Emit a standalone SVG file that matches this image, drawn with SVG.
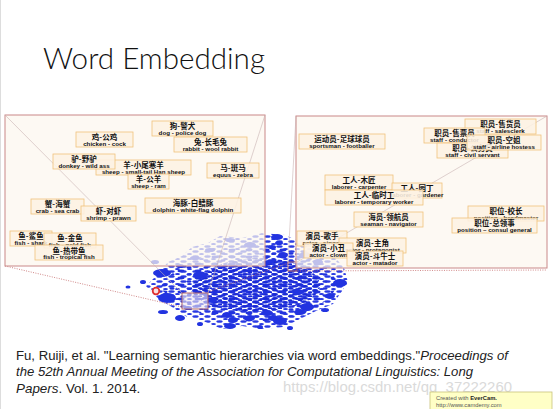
<svg xmlns="http://www.w3.org/2000/svg" width="554" height="409" viewBox="0 0 554 409">
<style>
.lbl rect{fill:#fdf1e2;fill-opacity:.88;stroke:#f0c27c;stroke-width:.8}
.zh{font-family:"Noto Sans CJK SC",sans-serif;font-weight:bold;font-size:7.5px;text-anchor:middle;fill:#111}
.en{font-family:"Liberation Sans",Arial,sans-serif;font-weight:bold;font-size:6.2px;text-anchor:middle;fill:#111}
.blob ellipse{fill:#2233e0}
.panel{fill:#fcf6ef;fill-opacity:.72;stroke:#c98888;stroke-width:1}
.persp{stroke:#c9b4b4;stroke-width:.6;fill:none}
.dot{stroke:#c46a6a;stroke-width:.8;stroke-dasharray:1 1.4;fill:none}
.cite{font-family:"Liberation Sans",Arial,sans-serif;font-size:13.4px;fill:#222}
</style>
<defs>
<pattern id="dA" width="12" height="5" patternUnits="userSpaceOnUse"><ellipse cx="3.5" cy="1.5" rx="3.2" ry="1.3" fill="#2a3ae2"/><ellipse cx="9.5" cy="4" rx="2.4" ry="1.1" fill="#2a3ae2"/></pattern>
<pattern id="dB" width="10" height="4" patternUnits="userSpaceOnUse" patternTransform="translate(2 1)"><ellipse cx="3" cy="1.2" rx="3" ry="1.2" fill="#1a2ad6"/><ellipse cx="8.2" cy="3.2" rx="2.4" ry="1" fill="#1a2ad6"/></pattern>
<pattern id="dC" width="17" height="7" patternUnits="userSpaceOnUse" patternTransform="translate(6 3)"><ellipse cx="5" cy="2" rx="3.5" ry="1.4" fill="#2233dd"/><ellipse cx="13" cy="5.5" rx="2.6" ry="1.2" fill="#2233dd"/></pattern>
</defs>
<rect width="554" height="409" fill="#ffffff"/>
<line x1="0.5" y1="0" x2="0.5" y2="409" stroke="#dddddd"/>
<text x="43" y="69" font-family="Lato,'Open Sans',sans-serif" font-weight="300" font-size="30" fill="#111" textLength="222" lengthAdjust="spacingAndGlyphs">Word Embedding</text>

<g id="cluster" class="blob">
<path d="M146,286 L156,276 168,262 182,256 192,247 208,243 220,236 242,238 262,233 285,235 300,242 320,245 334,256 344,268 348,282 340,294 333,304 316,311 300,319 284,327 262,329 242,326 222,329 203,321 187,317 172,307 158,299 Z" fill="url(#dA)"/>
<path d="M160,288 C170,268 205,250 250,246 C298,244 332,262 336,282 C338,302 302,318 258,322 C220,324 180,310 160,288 Z" fill="url(#dC)"/>
<path d="M190,289 C196,273 220,260 255,258 C292,257 318,270 320,284 C321,299 296,310 258,312 C225,313 196,303 190,289 Z" fill="url(#dB)"/>
<ellipse cx="162" cy="273" rx="9" ry="4"/>
<ellipse cx="167" cy="298" rx="9" ry="5"/>
<ellipse cx="200" cy="275" rx="7" ry="3.5"/>
<ellipse cx="143" cy="282" rx="3" ry="2"/>
<ellipse cx="128" cy="287" rx="2.5" ry="1.5"/>
<ellipse cx="277" cy="237" rx="6" ry="3"/>
<ellipse cx="272" cy="247" rx="4" ry="2"/>
<ellipse cx="280" cy="321" rx="7" ry="4"/>
<ellipse cx="267" cy="313" rx="6" ry="3"/>
<ellipse cx="340" cy="283" rx="7" ry="4"/>
<ellipse cx="330" cy="296" rx="5" ry="3"/>
<ellipse cx="307" cy="307" rx="7" ry="4"/>
<ellipse cx="250" cy="318" rx="5" ry="3"/>
<ellipse cx="233" cy="320" rx="5" ry="3"/>
<ellipse cx="188" cy="308" rx="4" ry="2"/>
<ellipse cx="180" cy="266" rx="4" ry="2"/>
<ellipse cx="212" cy="300" rx="5" ry="3"/>
<ellipse cx="318" cy="262" rx="5" ry="3"/>
<ellipse cx="298" cy="292" rx="6" ry="3"/>
<ellipse cx="163" cy="312" rx="5" ry="2"/>
<ellipse cx="180" cy="318" rx="5" ry="3"/>
<ellipse cx="200" cy="324" rx="3" ry="2"/>
<ellipse cx="227" cy="315" rx="5" ry="3"/>
<ellipse cx="230" cy="326" rx="6" ry="3"/>
<ellipse cx="247" cy="318" rx="4" ry="2"/>
<ellipse cx="260" cy="327" rx="3" ry="2"/>
<ellipse cx="273" cy="318" rx="5" ry="3"/>
<ellipse cx="300" cy="312" rx="6" ry="3"/>
<ellipse cx="215" cy="312" rx="3" ry="2"/>
<ellipse cx="283" cy="255" rx="5" ry="3"/>
<ellipse cx="270" cy="262" rx="4" ry="2"/>
<ellipse cx="279" cy="243" rx="4" ry="2"/>
<ellipse cx="230" cy="240" rx="5" ry="2"/>
<ellipse cx="250" cy="245" rx="6" ry="3"/>
<ellipse cx="210" cy="250" rx="5" ry="2"/>
<ellipse cx="320" cy="245" rx="5" ry="2"/>
<ellipse cx="305" cy="255" rx="6" ry="3"/>
<ellipse cx="195" cy="258" rx="5" ry="2"/>
<ellipse cx="155" cy="262" rx="4" ry="2"/>
<ellipse cx="325" cy="310" rx="4" ry="2"/>
<ellipse cx="290" cy="328" rx="3" ry="2"/>
</g>
<circle cx="156" cy="291" r="3.3" fill="#fbe0e0" stroke="#e03030" stroke-width="1.8"/>

<g id="connectors">
<rect x="182" y="293" width="26" height="16" fill="#efe6ee" fill-opacity=".6" stroke="#b06060" stroke-width=".9"/>
<rect x="288" y="262" width="9" height="9" fill="none" stroke="#b06060" stroke-width=".8"/>
<line class="dot" x1="5" y1="266" x2="182" y2="307"/>
<line class="dot" x1="208" y1="292" x2="288" y2="263"/>
<line class="dot" x1="288" y1="271" x2="547" y2="270"/>
</g>

<rect id="panel-left" class="panel" x="5" y="115" width="260" height="151"/>
<rect id="panel-right" class="panel" x="296" y="116" width="251" height="152"/>
<g id="perspective">
<line class="persp" x1="5" y1="115" x2="182" y2="293"/>
<line class="persp" x1="265" y1="115" x2="208" y2="293"/>
<line class="persp" x1="547" y1="116" x2="297" y2="262"/>
<line class="persp" x1="296" y1="116" x2="288" y2="262" stroke="#c98888"/>
</g>

<g id="n-chicken" class="lbl"><rect x="76" y="132" width="57" height="15"/><text class="zh" x="104.5" y="140">鸡-公鸡</text><text class="en" x="104.5" y="145.5">chicken - cock</text></g>
<g id="n-dog" class="lbl"><rect x="152" y="121" width="61" height="15"/><text class="zh" x="182.5" y="129">狗-警犬</text><text class="en" x="182.5" y="134.5">dog - police dog</text></g>
<g id="n-rabbit" class="lbl"><rect x="174" y="137" width="73" height="15"/><text class="zh" x="210.5" y="145">兔-长毛兔</text><text class="en" x="210.5" y="150.5">rabbit - wool rabbit</text></g>
<g id="n-sheep-han" class="lbl"><rect x="96" y="160" width="95" height="15"/><text class="zh" x="143.5" y="168">羊-小尾寒羊</text><text class="en" x="143.5" y="173.5">sheep - small-tail Han sheep</text></g>
<g id="n-donkey" class="lbl"><rect x="53" y="154" width="62" height="15"/><text class="zh" x="84" y="162">驴-野驴</text><text class="en" x="84" y="167.5">donkey - wild ass</text></g>
<g id="n-sheep-ram" class="lbl"><rect x="128" y="174" width="41" height="15"/><text class="zh" x="148.5" y="182">羊-公羊</text><text class="en" x="148.5" y="187.5">sheep - ram</text></g>
<g id="n-equus" class="lbl"><rect x="207" y="163" width="52" height="15"/><text class="zh" x="233" y="171">马-斑马</text><text class="en" x="233" y="176.5">equus - zebra</text></g>
<g id="n-crab" class="lbl"><rect x="31" y="199" width="53" height="15"/><text class="zh" x="57.5" y="207">蟹-海蟹</text><text class="en" x="57.5" y="212.5">crab - sea crab</text></g>
<g id="n-shrimp" class="lbl"><rect x="81" y="206" width="55" height="15"/><text class="zh" x="108.5" y="214">虾-对虾</text><text class="en" x="108.5" y="219.5">shrimp - prawn</text></g>
<g id="n-dolphin" class="lbl"><rect x="145" y="198" width="96" height="15"/><text class="zh" x="193" y="206">海豚-白鳍豚</text><text class="en" x="193" y="211.5">dolphin - white-flag dolphin</text></g>
<g id="n-shark" class="lbl"><rect x="10" y="231" width="42" height="15"/><text class="zh" x="31" y="239">鱼-鲨鱼</text><text class="en" x="31" y="244.5">fish - shark</text></g>
<g id="n-goldfish" class="lbl"><rect x="44" y="233" width="52" height="15"/><text class="zh" x="70" y="241">鱼-金鱼</text><text class="en" x="70" y="246.5">fish - gold fish</text></g>
<g id="n-tropical" class="lbl"><rect x="35" y="245" width="68" height="15"/><text class="zh" x="69" y="253.5">鱼-热带鱼</text><text class="en" x="69" y="259">fish - tropical fish</text></g>

<g id="n-sportsman" class="lbl"><rect x="299" y="134" width="86" height="15"/><text class="zh" x="342" y="142">运动员-足球球员</text><text class="en" x="342" y="147.5">sportsman - footballer</text></g>
<g id="n-salesclerk" class="lbl"><rect x="465" y="119" width="71" height="15"/><text class="zh" x="500.5" y="127">职员-售货员</text><text class="en" x="500.5" y="132.5">staff - salesclerk</text></g>
<g id="n-conductor" class="lbl"><rect x="424" y="128" width="61" height="15"/><text class="zh" x="454.5" y="136">职员-售票员</text><text class="en" x="454.5" y="141.5">staff - conductor</text></g>
<g id="n-civil" class="lbl"><rect x="437" y="143" width="71" height="15"/><text class="zh" x="472.5" y="151">职员-公务员</text><text class="en" x="472.5" y="156.5">staff - civil servant</text></g>
<g id="n-hostess" class="lbl"><rect x="467" y="135" width="74" height="15"/><text class="zh" x="504" y="143">职员-空姐</text><text class="en" x="504" y="148.5">staff - airline hostess</text></g>
<g id="n-carpenter" class="lbl"><rect x="325" y="175" width="68" height="15"/><text class="zh" x="359" y="183">工人-木匠</text><text class="en" x="359" y="188.5">laborer - carpenter</text></g>
<g id="n-gardener" class="lbl"><rect x="392" y="183" width="50" height="15"/><text class="zh" x="417" y="191">工人-园丁</text><text class="en" x="417" y="196.5">laborer - gardener</text></g>
<g id="n-temp" class="lbl"><rect x="325" y="190" width="98" height="15"/><text class="zh" x="374" y="198">工人-临时工</text><text class="en" x="374" y="203.5">laborer - temporary worker</text></g>
<g id="n-navigator" class="lbl"><rect x="354" y="212" width="69" height="15"/><text class="zh" x="388.5" y="220">海员-领航员</text><text class="en" x="388.5" y="225.5">seaman - navigator</text></g>
<g id="n-headmaster" class="lbl"><rect x="468" y="206" width="76" height="15"/><text class="zh" x="506" y="214">职位-校长</text><text class="en" x="506" y="219.5">position - headmaster</text></g>
<g id="n-consul" class="lbl"><rect x="452" y="218" width="85" height="15"/><text class="zh" x="494.5" y="226">职位-总领事</text><text class="en" x="494.5" y="231.5">position – consul general</text></g>
<g id="n-singer" class="lbl"><rect x="297" y="231" width="50" height="15"/><text class="zh" x="322" y="239">演员-歌手</text><text class="en" x="322" y="244.5">actor - singer</text></g>
<g id="n-protagonist" class="lbl"><rect x="339" y="238" width="67" height="15"/><text class="zh" x="372.5" y="246">演员-主角</text><text class="en" x="372.5" y="251.5">actor - protagonist</text></g>
<g id="n-clown" class="lbl"><rect x="304" y="243" width="49" height="15"/><text class="zh" x="328.5" y="251">演员-小丑</text><text class="en" x="328.5" y="256.5">actor - clown</text></g>
<g id="n-matador" class="lbl"><rect x="347" y="251" width="56" height="15"/><text class="zh" x="375" y="259">演员-斗牛士</text><text class="en" x="375" y="264.5">actor - matador</text></g>

<text class="cite" x="16" y="360" textLength="492" lengthAdjust="spacingAndGlyphs">Fu, Ruiji, et al. "Learning semantic hierarchies via word embeddings."<tspan font-style="italic">Proceedings of</tspan></text>
<text class="cite" x="16" y="376" font-style="italic" textLength="457" lengthAdjust="spacingAndGlyphs">the 52th Annual Meeting of the Association for Computational Linguistics: Long</text>
<text class="cite" x="16" y="393"><tspan font-style="italic">Papers</tspan>. Vol. 1. 2014.</text>

<text x="283" y="392" font-family="Liberation Sans,Arial,sans-serif" font-size="14" fill="#dadada" textLength="229" lengthAdjust="spacingAndGlyphs">https://blog.csdn.net/qq_37222260</text>
<g id="evercam">
<rect x="430" y="392" width="122" height="18" fill="#ffffc6" stroke="#c8c27a" stroke-width=".8"/>
<text x="436" y="399.5" font-family="Liberation Sans,Arial,sans-serif" font-size="5.8" fill="#555">Created with <tspan font-weight="bold" fill="#222">EverCam.</tspan></text>
<text x="436" y="407" font-family="Liberation Sans,Arial,sans-serif" font-size="5.8" fill="#555">http://www.camdemy.com</text>
</g>
</svg>
